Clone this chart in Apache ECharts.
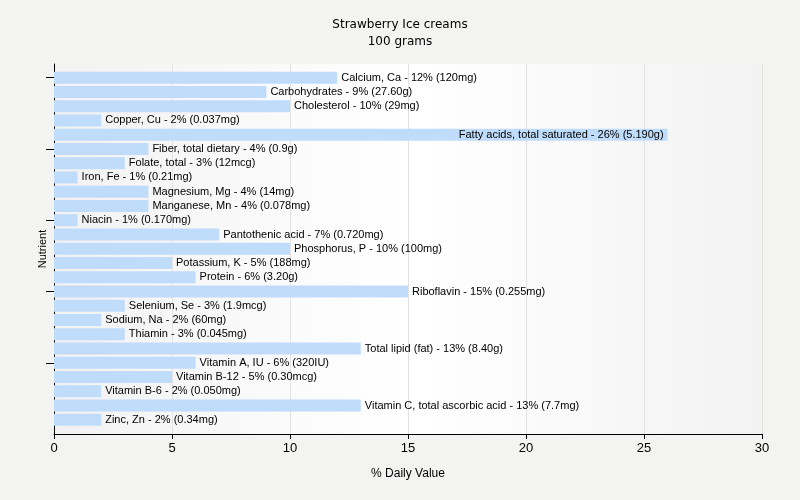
<!DOCTYPE html>
<html>
<head>
<meta charset="utf-8">
<script src="https://cdn.jsdelivr.net/npm/echarts@6/dist/echarts.min.js"></script>
<style>
  html, body { margin: 0; padding: 0; background: #f3f3f2; }
  #main { width: 800px; height: 500px; }
</style>
</head>
<body>
<div id="main"></div>
<script>
// nutrient names, top to bottom
var nutrients = [
    "Calcium, Ca", "Carbohydrates", "Cholesterol", "Copper, Cu",
    "Fatty acids, total saturated", "Fiber, total dietary", "Folate, total",
    "Iron, Fe", "Magnesium, Mg", "Manganese, Mn", "Niacin", "Pantothenic acid",
    "Phosphorus, P", "Potassium, K", "Protein", "Riboflavin", "Selenium, Se",
    "Sodium, Na", "Thiamin", "Total lipid (fat)", "Vitamin A, IU",
    "Vitamin B-12", "Vitamin B-6", "Vitamin C, total ascorbic acid", "Zinc, Zn"
];
// % daily value
var dailyValues = [12, 9, 10, 2, 26, 4, 3, 1, 4, 4, 1, 7, 10, 5, 6, 15, 3, 2, 3, 13, 6, 5, 2, 13, 2];
// amounts per 100 g
var amounts = [
    "120mg", "27.60g", "29mg", "0.037mg", "5.190g", "0.9g", "12mcg", "0.21mg",
    "14mg", "0.078mg", "0.170mg", "0.720mg", "100mg", "188mg", "3.20g", "0.255mg",
    "1.9mcg", "60mg", "0.045mg", "8.40g", "320IU", "0.30mcg", "0.050mg", "7.7mg", "0.34mg"
];
var xTicks = [0, 5, 10, 15, 20, 25, 30];

var labelFont = "'Liberation Sans', Arial, sans-serif";
var titleFont = "'DejaVu Sans', sans-serif";

function createChart(){
    var chart = echarts.init(document.getElementById("main"));

    //Bar data; the longest label goes inside its bar.
    var barData = [];
    for (var i = 0; i < dailyValues.length; i++){
        var item = { value: dailyValues[i] };
        if (dailyValues[i] > 20){
            item.label = { position: 'insideRight', distance: 4 };
        }
        barData.push(item);
    }

    var option = {
        backgroundColor: '#f3f3f2',
        animation: false,
        title: {
            text: 'Strawberry Ice creams\n100 grams',
            left: 'center',
            top: 11,
            textStyle: { fontFamily: titleFont, fontSize: 12, fontWeight: 'normal', color: '#000', lineHeight: 17 }
        },
        grid: [
            {   // frame, background and value axis
                left: 54, right: 38, top: 64, bottom: 66,
                show: true, borderWidth: 0,
                backgroundColor: new echarts.graphic.LinearGradient(0, 0, 1, 0, [
                    { offset: 0, color: '#f2f2f2' },
                    { offset: 0.5, color: '#ffffff' },
                    { offset: 1, color: '#f2f2f2' }
                ])
            },
            {   // bars
                left: 54, right: 38, top: 70.5, bottom: 73
            }
        ],
        xAxis: [
            {
                gridIndex: 0, type: 'value', min: xTicks[0], max: xTicks[xTicks.length - 1], interval: 5,
                name: '% Daily Value', nameLocation: 'middle', nameGap: 34,
                nameTextStyle: { fontFamily: labelFont, fontSize: 12, color: '#000' },
                axisLine: { show: true, onZero: false, lineStyle: { color: '#000', width: 1 } },
                axisTick: { show: true, length: 5, lineStyle: { color: '#000' } },
                axisLabel: { fontFamily: labelFont, fontSize: 13, color: '#000', margin: 8 },
                splitLine: { show: true, lineStyle: { color: '#e2e2e2', width: 1 } }
            },
            {
                gridIndex: 1, type: 'value', min: xTicks[0], max: xTicks[xTicks.length - 1], show: false
            }
        ],
        yAxis: [
            {
                gridIndex: 0, type: 'value', min: 0, max: 1,
                name: 'Nutrient', nameLocation: 'middle', nameGap: 6,
                nameTextStyle: { fontFamily: labelFont, fontSize: 11, color: '#000' },
                axisLine: { show: true, onZero: false, lineStyle: { color: '#000', width: 1 } },
                axisTick: { show: false },
                axisLabel: { show: false },
                splitLine: { show: false }
            },
            {
                gridIndex: 1, type: 'category', data: nutrients, inverse: true,
                axisLine: { show: false },
                axisTick: { show: true, interval: 4, alignWithLabel: true, length: 8, lineStyle: { color: '#000' } },
                axisLabel: { show: false },
                splitLine: { show: false }
            }
        ],
        series: [
            {
                type: 'bar',
                xAxisIndex: 1, yAxisIndex: 1,
                data: barData,
                barWidth: 12,
                itemStyle: { color: '#c0dcfb' },
                label: {
                    show: true,
                    position: 'right',
                    distance: 4,
                    fontFamily: labelFont,
                    fontSize: 11,
                    color: '#000',
                    formatter: function (p){
                        return nutrients[p.dataIndex] + ' - ' + dailyValues[p.dataIndex] + '% (' + amounts[p.dataIndex] + ')';
                    }
                }
            }
        ]
    };
    chart.setOption(option);
}

createChart();
</script>
</body>
</html>
